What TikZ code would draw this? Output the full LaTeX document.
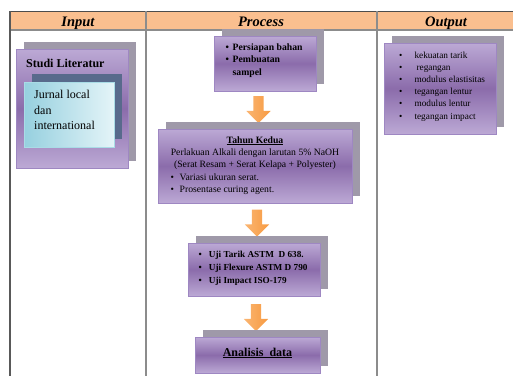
\documentclass[tikz,border=0pt]{standalone}
\usepackage{fontspec}
\setmainfont{Liberation Serif}
\usetikzlibrary{shadows,shapes.arrows,positioning}

\definecolor{hdrfill}{HTML}{FABF8F}
\definecolor{gridgray}{HTML}{8C8C8C}
\definecolor{pTop}{HTML}{BCA9D5}
\definecolor{pMid}{HTML}{8B6CAB}
\definecolor{pLine}{HTML}{9E87C2}
\definecolor{shgray}{HTML}{9F99A9}
\definecolor{cyA}{HTML}{96D0DF}
\definecolor{cyB}{HTML}{E4F4F8}
\definecolor{cyLine}{HTML}{A9DCE6}
\definecolor{cyShadow}{HTML}{586A8C}
\definecolor{orA}{HTML}{FAB572}
\definecolor{orB}{HTML}{F79A40}

\newcommand\bul[1][7pt]{\makebox[#1][l]{\textbullet}}

\tikzset{
  pbox/.style={draw=pLine, line width=0.8pt, top color=pTop, bottom color=pTop,
    middle color=pMid, inner sep=0pt,
    general shadow={fill=shgray, shadow xshift=8pt, shadow yshift=7pt}},
  cbox/.style={draw=cyLine, line width=0.8pt, left color=cyA, right color=cyB,
    inner sep=0pt,
    general shadow={fill=cyShadow, shadow xshift=8pt, shadow yshift=8pt}},
  barrow/.style={single arrow, rotate=-90, draw=none, left color=orA, right color=orB,
    minimum height=27pt, text height=5pt, text depth=5pt, single arrow head extend=7pt,
    single arrow head indent=0pt, inner sep=0pt},
  hdr/.style={anchor=base, inner sep=0pt, font=\bfseries\itshape\fontsize{14.5}{16}\selectfont},
  % base = baseline of the last line
  ptext/.style={anchor=base west, align=left, inner sep=0pt},
}

\begin{document}
\begin{tikzpicture}[x=1pt,y=-1pt]
\useasboundingbox (0,0) rectangle (513,376);
% table
\fill[hdrfill] (10,11) rectangle (513,30);
\draw[gridgray, line width=1.6pt] (10,30) -- (513,30);
\draw[black!70, line width=1pt] (10,11) -- (513,11);
\draw[black!65, line width=1.5pt] (10,11) -- (10,376);
\draw[gridgray, line width=1.5pt] (146,11) -- (146,376);
\draw[gridgray, line width=1.5pt] (377,11) -- (377,376);
\node[hdr] (hIn) at (78,26) {Input};
\node[hdr] (hPr) at (261,26) {Process};
\node[hdr] (hOut) at (446,26) {Output};

% input
\node[pbox, minimum width=112pt, minimum height=119pt] (studi) at (72,108.5) {};
\node[ptext, font=\bfseries\fontsize{12}{14}\selectfont] (studiT) at (26,67) {Studi Literatur};
\node[cbox, minimum width=90pt, minimum height=65pt] (jurnal) at (69,114.5) {};
\node[ptext, font=\fontsize{12}{15.5}\selectfont] (jurnalT) at (34,129.5) {Jurnal local\\dan\\international};

% process
\node[pbox, minimum width=102pt, minimum height=55pt] (siap) at (265,63.5) {};
\node[ptext, font=\bfseries\fontsize{9.7}{12.5}\selectfont] (siapT) at (225.5,75)
  {\bul Persiapan bahan\\\bul Pembuatan\\\hspace*{7pt}sampel};
\node[barrow] (arrA) at (258.5,107) {};

\node[pbox, minimum width=194pt, minimum height=74pt] (kedua) at (255,166) {};
\node[anchor=base, align=center, inner sep=0pt, font=\fontsize{9.7}{12.3}\selectfont] (keduaT) at (255,167.6)
  {\textbf{\underline{Tahun Kedua}}\\Perlakuan Alkali dengan larutan 5\% NaOH\\(Serat Resam + Serat Kelapa + Polyester)};
\node[ptext, font=\fontsize{9.7}{12.3}\selectfont] (keduaB) at (170.5,192.3)
  {\bul[6.5pt] Variasi ukuran serat.\\\bul[6.5pt] Prosentase curing agent.};
\node[barrow] (arrB) at (257,220.5) {};

\node[pbox, minimum width=132pt, minimum height=53pt] (uji) at (254,269.5) {};
\node[ptext, font=\bfseries\fontsize{9.2}{13}\selectfont] (ujiT) at (198.5,283.5)
  {\bul[8pt] Uji Tarik ASTM\ \ D 638.\\\bul[8pt] Uji Flexure ASTM D 790\\\bul[8pt] Uji Impact ISO-179};
\node[barrow] (arrC) at (256,315) {};

\node[pbox, minimum width=125pt, minimum height=36pt] (analisis) at (257.5,355) {};
\node[anchor=base, inner sep=0pt, font=\bfseries\fontsize{12}{14}\selectfont] (analisisT) at (257.5,356)
  {\underline{Analisis\ \ data}};

% output
\node[pbox, minimum width=112pt, minimum height=91pt] (hasil) at (440,88.5) {};
\node[ptext, font=\fontsize{9.3}{12.2}\selectfont] (hasilT) at (399,119)
  {\bul[13pt] kekuatan tarik\\\bul[13pt] \hspace*{2pt}regangan\\\bul[13pt] modulus elastisitas\\
   \bul[13pt] tegangan lentur\\\bul[13pt] modulus lentur\\\bul[13pt] tegangan impact};
\end{tikzpicture}
\end{document}
